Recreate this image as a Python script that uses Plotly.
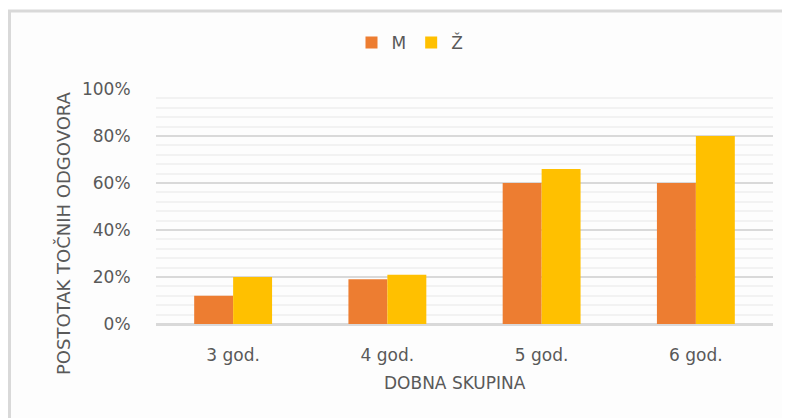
import plotly.graph_objects as go

categories = ["3 god.", "4 god.", "5 god.", "6 god."]
m_values = [0.12, 0.19, 0.60, 0.60]
z_values = [0.20, 0.21, 0.66, 0.80]
series_names = ["M", "Ž"]
y_tickvals = [0, 0.2, 0.4, 0.6, 0.8, 1.0]
y_ticktext = ["0%", "20%", "40%", "60%", "80%", "100%"]

OFF = 8  # page body margin
W, H = 790 - OFF, 418 - OFF
L, R, T = 156 - OFF, 17, 89 - OFF
B = H - (324 - OFF)
pw, ph = W - L - R, H - T - B

def px_x(px):
    return (px - OFF - L) / pw

def px_y(py):
    return (H - B - (py - OFF)) / ph

FONT = "DejaVu Sans"
GRAY = "#595959"

fig = go.Figure()
fig.add_trace(go.Bar(x=categories, y=m_values, name=series_names[0], marker_color="#ED7D31", marker_line_width=0))
fig.add_trace(go.Bar(x=categories, y=z_values, name=series_names[1], marker_color="#FFC000", marker_line_width=0))

fig.update_layout(
    width=W, height=H,
    margin=dict(l=L, r=R, t=T, b=B, pad=0),
    paper_bgcolor="#FFFFFF",
    plot_bgcolor="#FDFDFD",
    barmode="group",
    bargap=0.495,
    bargroupgap=0,
    font=dict(family=FONT, size=16, color=GRAY),
    showlegend=True,
    legend=dict(orientation="h", x=px_x(410), xanchor="center", y=px_y(43), yanchor="middle",
                font=dict(family=FONT, size=17, color=GRAY), itemwidth=30, traceorder="normal",
                bgcolor="rgba(0,0,0,0)"),
    shapes=[dict(type="rect", xref="paper", yref="paper",
                 x0=px_x(9.5), x1=px_x(W + 40), y0=px_y(H + 40), y1=px_y(11),
                 line=dict(color="#D9D9D9", width=3), fillcolor="#FDFDFD", layer="below")],
    annotations=[
        dict(text="DOBNA SKUPINA", xref="paper", yref="paper", x=px_x(455), y=px_y(383),
             xanchor="center", yanchor="middle", showarrow=False,
             font=dict(family=FONT, size=17, color=GRAY)),
        dict(text="POSTOTAK TOČNIH ODGOVORA", xref="paper", yref="paper", x=px_x(63), y=px_y(233),
             xanchor="center", yanchor="middle", textangle=-90, showarrow=False,
             font=dict(family=FONT, size=18, color=GRAY)),
    ],
)

fig.update_xaxes(
    showgrid=False, showline=False, zeroline=False,
    ticks="outside", ticklen=16, tickcolor="rgba(0,0,0,0)",
    tickfont=dict(family=FONT, size=17, color=GRAY),
)
fig.update_yaxes(
    range=[0, 1.0], tickvals=y_tickvals, ticktext=y_ticktext,
    showgrid=True, gridcolor="#D9D9D9", gridwidth=2,
    zeroline=True, zerolinecolor="#D9D9D9", zerolinewidth=3,
    showline=False,
    ticks="outside", ticklen=21, tickcolor="rgba(0,0,0,0)",
    tickfont=dict(family=FONT, size=17, color=GRAY),
    minor=dict(dtick=0.04, tick0=0, showgrid=True, gridcolor="#F2F2F2", gridwidth=2, ticks=""),
)

fig.write_html("out.html")
